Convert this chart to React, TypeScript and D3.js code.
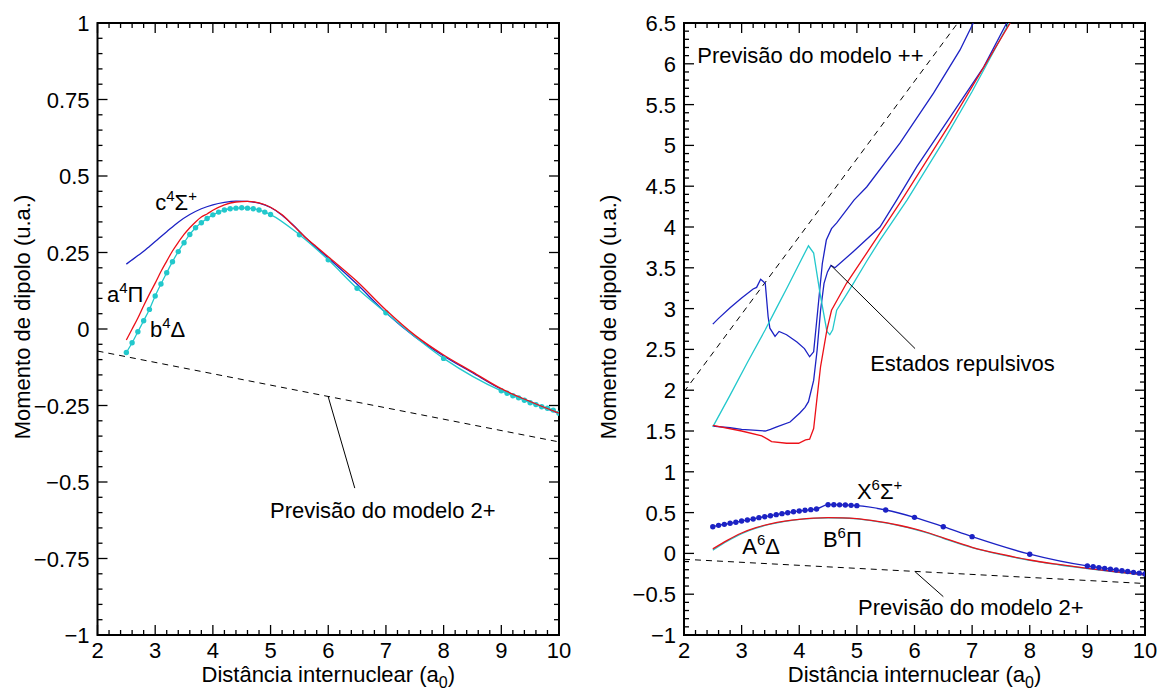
import React from "react";
import * as d3 from "d3";

type Pt = [number, number];

// ---- eixos
const xTicks = [2, 3, 4, 5, 6, 7, 8, 9, 10];
const leftYTicks = [1, 0.75, 0.5, 0.25, 0, -0.25, -0.5, -0.75, -1];
const rightYTicks = [6.5, 6, 5.5, 5, 4.5, 4, 3.5, 3, 2.5, 2, 1.5, 1, 0.5, 0, -0.5, -1];

// ---- painel esquerdo (quartetos)
const c4Sigma: Pt[] = [
  [2.5, 0.212], [2.6, 0.226], [2.7, 0.24], [2.8, 0.254], [2.9, 0.27], [3.0, 0.286],
  [3.2, 0.318], [3.4, 0.349], [3.6, 0.374], [3.8, 0.393], [4.0, 0.406], [4.2, 0.414],
  [4.4, 0.418], [4.6, 0.417], [4.8, 0.411], [5.0, 0.397], [5.2, 0.372], [5.4, 0.338],
  [5.6, 0.3], [5.8, 0.265], [6.0, 0.232], [6.5, 0.146], [7.0, 0.053], [7.5, -0.025],
  [8.0, -0.088], [8.5, -0.143], [9.0, -0.197], [9.5, -0.238], [10.0, -0.276],
];
const a4Pi: Pt[] = [
  [2.5, -0.036], [2.6, 0.0], [2.7, 0.036], [2.8, 0.076], [2.9, 0.114], [3.0, 0.15],
  [3.1, 0.188], [3.2, 0.222], [3.3, 0.255], [3.4, 0.283], [3.5, 0.309], [3.6, 0.331],
  [3.7, 0.35], [3.8, 0.366], [3.9, 0.376], [4.0, 0.388], [4.2, 0.406], [4.4, 0.415],
  [4.6, 0.417], [4.8, 0.412], [5.0, 0.398], [5.2, 0.373], [5.4, 0.337], [5.6, 0.3],
  [5.8, 0.268], [6.0, 0.236], [6.5, 0.155], [7.0, 0.062], [7.5, -0.02], [8.0, -0.085],
  [8.5, -0.14], [9.0, -0.195], [9.5, -0.237], [10.0, -0.275],
];
const b4Delta: Pt[] = [
  [2.5, -0.077], [2.6, -0.045], [2.7, -0.009], [2.8, 0.027], [2.9, 0.064], [3.0, 0.108],
  [3.1, 0.147], [3.2, 0.184], [3.3, 0.22], [3.4, 0.253], [3.5, 0.282], [3.6, 0.309],
  [3.7, 0.331], [3.8, 0.347], [3.9, 0.361], [4.0, 0.373], [4.1, 0.382], [4.2, 0.389],
  [4.3, 0.393], [4.4, 0.395], [4.5, 0.396], [4.6, 0.395], [4.7, 0.393], [4.8, 0.389],
  [4.9, 0.382], [5.0, 0.374], [5.5, 0.308], [6.0, 0.226], [6.5, 0.133], [7.0, 0.053],
  [8.0, -0.096], [9.0, -0.202], [9.1, -0.21], [9.2, -0.218], [9.3, -0.225], [9.4, -0.233],
  [9.5, -0.241], [9.6, -0.247], [9.7, -0.254], [9.8, -0.259], [9.9, -0.265], [10.0, -0.275],
];

// ---- painel direito (sextetos + estados repulsivos)
const repulsiveUpper: Pt[] = [
  [2.5, 2.81], [2.6, 2.88], [2.8, 3.01], [3.0, 3.13], [3.2, 3.24], [3.26, 3.26], [3.33, 3.36],
  [3.41, 3.31], [3.46, 2.9], [3.49, 2.76], [3.58, 2.66], [3.65, 2.72], [3.78, 2.68],
  [3.96, 2.59], [4.09, 2.51], [4.18, 2.41], [4.25, 2.47], [4.31, 2.9], [4.4, 3.55],
  [4.47, 3.84], [4.56, 3.98], [4.65, 4.05], [4.95, 4.33], [5.17, 4.49], [5.75, 5.03],
  [6.33, 5.64], [6.79, 6.17], [7.02, 6.5],
];
const repulsiveLower: Pt[] = [
  [2.5, 1.56], [2.8, 1.54], [3.0, 1.52], [3.2, 1.51], [3.41, 1.5], [3.5, 1.52], [3.61, 1.55],
  [3.84, 1.61], [4.01, 1.72], [4.1, 1.79], [4.16, 1.86], [4.25, 2.12], [4.31, 2.49],
  [4.37, 2.98], [4.43, 3.31], [4.49, 3.45], [4.55, 3.53], [4.62, 3.5], [4.94, 3.7],
  [5.4, 4.0], [5.69, 4.33], [6.04, 4.74], [6.62, 5.35], [7.2, 5.96], [7.6, 6.5],
];
const repulsiveCyan: Pt[] = [
  [2.5, 1.55], [2.8, 1.94], [3.1, 2.34], [3.41, 2.74], [3.6, 3.0], [3.8, 3.27], [4.0, 3.55],
  [4.16, 3.77], [4.25, 3.68], [4.36, 3.19], [4.48, 2.72], [4.53, 2.68], [4.58, 2.74],
  [4.65, 2.98], [4.8, 3.15], [4.94, 3.31], [5.17, 3.58], [5.4, 3.84], [5.87, 4.33],
  [6.5, 5.05], [7.0, 5.66], [7.64, 6.5],
];
const repulsiveRed: Pt[] = [
  [2.5, 1.57], [3.0, 1.5], [3.35, 1.44], [3.45, 1.4], [3.52, 1.37], [3.78, 1.35], [3.99, 1.35],
  [4.11, 1.39], [4.18, 1.4], [4.25, 1.53], [4.3, 1.85], [4.37, 2.29], [4.48, 2.74],
  [4.56, 2.98], [4.82, 3.31], [5.17, 3.68], [5.75, 4.3], [6.62, 5.27], [7.66, 6.5],
];
const x6Sigma: Pt[] = [
  [2.5, 0.327], [2.6, 0.344], [2.7, 0.356], [2.8, 0.369], [2.9, 0.381], [3.0, 0.397],
  [3.1, 0.409], [3.2, 0.422], [3.3, 0.438], [3.4, 0.45], [3.5, 0.462], [3.6, 0.475],
  [3.7, 0.487], [3.8, 0.499], [3.9, 0.511], [4.0, 0.52], [4.1, 0.528], [4.2, 0.536],
  [4.3, 0.544], [4.5, 0.597], [4.6, 0.597], [4.7, 0.595], [4.8, 0.593], [4.9, 0.589],
  [5.0, 0.585], [5.5, 0.532], [6.0, 0.442], [6.5, 0.327], [7.0, 0.205], [8.0, -0.01],
  [9.0, -0.154], [9.1, -0.164], [9.2, -0.174], [9.3, -0.183], [9.4, -0.193], [9.5, -0.203],
  [9.6, -0.212], [9.7, -0.222], [9.8, -0.232], [9.9, -0.242], [10.0, -0.252],
];
const b6Pi: Pt[] = [
  [2.5, 0.055], [2.75, 0.16], [3.0, 0.25], [3.25, 0.315], [3.5, 0.362], [3.75, 0.395],
  [4.0, 0.418], [4.25, 0.432], [4.5, 0.438], [4.75, 0.436], [5.0, 0.426], [5.25, 0.405],
  [5.5, 0.378], [5.75, 0.342], [6.0, 0.3], [6.25, 0.25], [6.5, 0.19], [7.0, 0.075],
  [7.5, -0.01], [8.0, -0.081], [8.5, -0.135], [9.0, -0.183], [9.5, -0.225], [10.0, -0.262],
];
const a6Delta: Pt[] = [
  [2.5, 0.04], [2.75, 0.15], [3.0, 0.243], [3.25, 0.31], [3.5, 0.358], [3.75, 0.392],
  [4.0, 0.416], [4.25, 0.43], [4.5, 0.436], [4.75, 0.434], [5.0, 0.423], [5.25, 0.402],
  [5.5, 0.374], [5.75, 0.337], [6.0, 0.295], [6.25, 0.245], [6.5, 0.185], [7.0, 0.07],
  [7.5, -0.015], [8.0, -0.085], [8.5, -0.139], [9.0, -0.186], [9.5, -0.228], [10.0, -0.265],
];

// previsões dos modelos (retas)
const model2Plus: Pt[] = [[2, -0.072], [10, -0.369]];
const modelPlusPlus: Pt[] = [[2, 1.98], [6.75, 6.5]];

const BLUE = "#1c22c4";
const RED = "#ec1018";
const CYAN = "#22c8cc";
const FONT = "'Liberation Sans', Arial, Helvetica, sans-serif";
const FS = 22;

const fmt = (v: number) => (v < 0 ? "\u2212" + Math.abs(v) : String(v));

type Scale = d3.ScaleLinear<number, number>;

function Frame({ x, y, yTicks, yMinor, id }: { x: Scale; y: Scale; yTicks: number[]; yMinor: number; id: string }) {
  const [x0, x1] = x.range();
  const [y1, y0] = y.range();
  const [ylo, yhi] = y.domain();
  const xMinor = d3.range(0, 41).map((i) => 2 + i * 0.2);
  const nY = Math.round((yhi - ylo) / yMinor);
  const yMin = d3.range(0, nY + 1).map((i) => ylo + i * yMinor);
  const isMajorY = (v: number) => yTicks.some((t) => Math.abs(t - v) < 1e-6);
  const isMajorX = (v: number) => Math.abs(v - Math.round(v)) < 1e-6;
  return (
    <g>
      <defs>
        <clipPath id={id}>
          <rect x={x0} y={y0} width={x1 - x0} height={y1 - y0} />
        </clipPath>
      </defs>
      <g stroke="#000" strokeWidth={1.3}>
        {xMinor.map((v, i) => {
          const L = isMajorX(v) ? 10 : 5;
          return (
            <g key={"xt" + i}>
              <line x1={x(v)} x2={x(v)} y1={y1} y2={y1 - L} />
              <line x1={x(v)} x2={x(v)} y1={y0} y2={y0 + L} />
            </g>
          );
        })}
        {yMin.map((v, i) => {
          const L = isMajorY(v) ? 10 : 5;
          return (
            <g key={"yt" + i}>
              <line x1={x0} x2={x0 + L} y1={y(v)} y2={y(v)} />
              <line x1={x1} x2={x1 - L} y1={y(v)} y2={y(v)} />
            </g>
          );
        })}
      </g>
      <rect x={x0} y={y0} width={x1 - x0} height={y1 - y0} fill="none" stroke="#000" strokeWidth={2} />
      <g fontFamily={FONT} fontSize={FS} fill="#000">
        {xTicks.map((t) => (
          <text key={"xl" + t} x={x(t)} y={y1 + 23} textAnchor="middle">{t}</text>
        ))}
        {yTicks.map((t) => (
          <text key={"yl" + t} x={x0 - 8} y={y(t) + 8} textAnchor="end">{fmt(t)}</text>
        ))}
        <text x={(x0 + x1) / 2} y={682} textAnchor="middle">
          Distância internuclear (a<tspan dy={6} fontSize={16}>0</tspan><tspan dy={-6}>)</tspan>
        </text>
        <text transform={`translate(${x0 - 68},${(y0 + y1) / 2 - 12}) rotate(-90)`} textAnchor="middle">
          Momento de dipolo (u.a.)
        </text>
      </g>
    </g>
  );
}

function StateLabel({ x, y, base, sup, sym, symSup }: { x: number; y: number; base: string; sup: string; sym: string; symSup?: string }) {
  return (
    <text x={x} y={y} fontFamily={FONT} fontSize={FS}>
      {base}
      <tspan dy={-9} fontSize={15}>{sup}</tspan>
      <tspan dy={9}>{sym}</tspan>
      {symSup ? <tspan dy={-9} fontSize={15}>{symSup}</tspan> : null}
    </text>
  );
}

export default function App() {
  const xL = d3.scaleLinear().domain([2, 10]).range([97.5, 559]);
  const yL = d3.scaleLinear().domain([-1, 1]).range([635, 23]);
  const xR = d3.scaleLinear().domain([2, 10]).range([684, 1145]);
  const yR = d3.scaleLinear().domain([-1, 6.5]).range([635, 23]);

  const smooth = (x: Scale, y: Scale) =>
    d3.line<Pt>().x((d) => x(d[0])).y((d) => y(d[1])).curve(d3.curveMonotoneX);
  const straight = (x: Scale, y: Scale) =>
    d3.line<Pt>().x((d) => x(d[0])).y((d) => y(d[1]));

  const sL = smooth(xL, yL);
  const sR = smooth(xR, yR);
  const lL = straight(xL, yL);
  const lR = straight(xR, yR);

  return (
    <svg width={1162} height={690} style={{ position: "absolute", left: 0, top: 0, background: "#fff" }}>
      {/* ---------- painel esquerdo ---------- */}
      <Frame x={xL} y={yL} yTicks={leftYTicks} yMinor={0.05} id="clipL" />
      <g clipPath="url(#clipL)" fill="none" strokeWidth={1.3}>
        <path d={lL(model2Plus) || ""} stroke="#000" strokeWidth={1} strokeDasharray="6,5" />
        <path d={sL(c4Sigma) || ""} stroke={BLUE} />
        <path d={sL(b4Delta) || ""} stroke={CYAN} />
        {b4Delta.map((d, i) => (
          <circle key={"bd" + i} cx={xL(d[0])} cy={yL(d[1])} r={2.7} fill={CYAN} stroke="none" />
        ))}
        <path d={sL(a4Pi) || ""} stroke={RED} />
      </g>
      <line x1={xL(6.0)} y1={yL(-0.222)} x2={xL(6.46)} y2={yL(-0.52)} stroke="#000" strokeWidth={1} />
      <text x={xL(4.99)} y={yL(-0.618)} fontFamily={FONT} fontSize={FS}>Previsão do modelo 2+</text>
      <StateLabel x={xL(3.0)} y={yL(0.389)} base="c" sup="4" sym="Σ" symSup="+" />
      <StateLabel x={xL(2.165)} y={yL(0.088)} base="a" sup="4" sym="Π" />
      <StateLabel x={xL(2.91)} y={yL(-0.026)} base="b" sup="4" sym="Δ" />

      {/* ---------- painel direito ---------- */}
      <Frame x={xR} y={yR} yTicks={rightYTicks} yMinor={0.1} id="clipR" />
      <g clipPath="url(#clipR)" fill="none" strokeWidth={1.3}>
        <path d={lR(model2Plus) || ""} stroke="#000" strokeWidth={1} strokeDasharray="6,5" />
        <path d={lR(modelPlusPlus) || ""} stroke="#000" strokeWidth={1} strokeDasharray="6,5" />
        <path d={lR(repulsiveUpper) || ""} stroke={BLUE} />
        <path d={lR(repulsiveLower) || ""} stroke={BLUE} />
        <path d={lR(repulsiveCyan) || ""} stroke={CYAN} />
        <path d={lR(repulsiveRed) || ""} stroke={RED} />
        <path d={sR(a6Delta) || ""} stroke={CYAN} />
        <path d={sR(b6Pi) || ""} stroke={RED} />
        <path d={sR(x6Sigma) || ""} stroke={BLUE} />
        {x6Sigma.map((d, i) => (
          <circle key={"xs" + i} cx={xR(d[0])} cy={yR(d[1])} r={2.7} fill={BLUE} stroke="none" />
        ))}
      </g>
      <line x1={xR(4.55)} y1={yR(3.53)} x2={xR(6.01)} y2={yR(2.51)} stroke="#000" strokeWidth={1} />
      <line x1={xR(6.01)} y1={yR(-0.224)} x2={xR(6.5)} y2={yR(-0.53)} stroke="#000" strokeWidth={1} />
      <g fontFamily={FONT} fontSize={FS}>
        <text x={xR(2.23)} y={yR(6.01)}>Previsão do modelo ++</text>
        <text x={xR(5.23)} y={yR(2.235)}>Estados repulsivos</text>
        <text x={xR(5.02)} y={yR(-0.755)}>Previsão do modelo 2+</text>
      </g>
      <StateLabel x={xR(5.0)} y={yR(0.667)} base="X" sup="6" sym="Σ" symSup="+" />
      <StateLabel x={xR(4.41)} y={yR(0.078)} base="B" sup="6" sym="Π" />
      <StateLabel x={xR(3.01)} y={yR(-0.007)} base="A" sup="6" sym="Δ" />
    </svg>
  );
}
